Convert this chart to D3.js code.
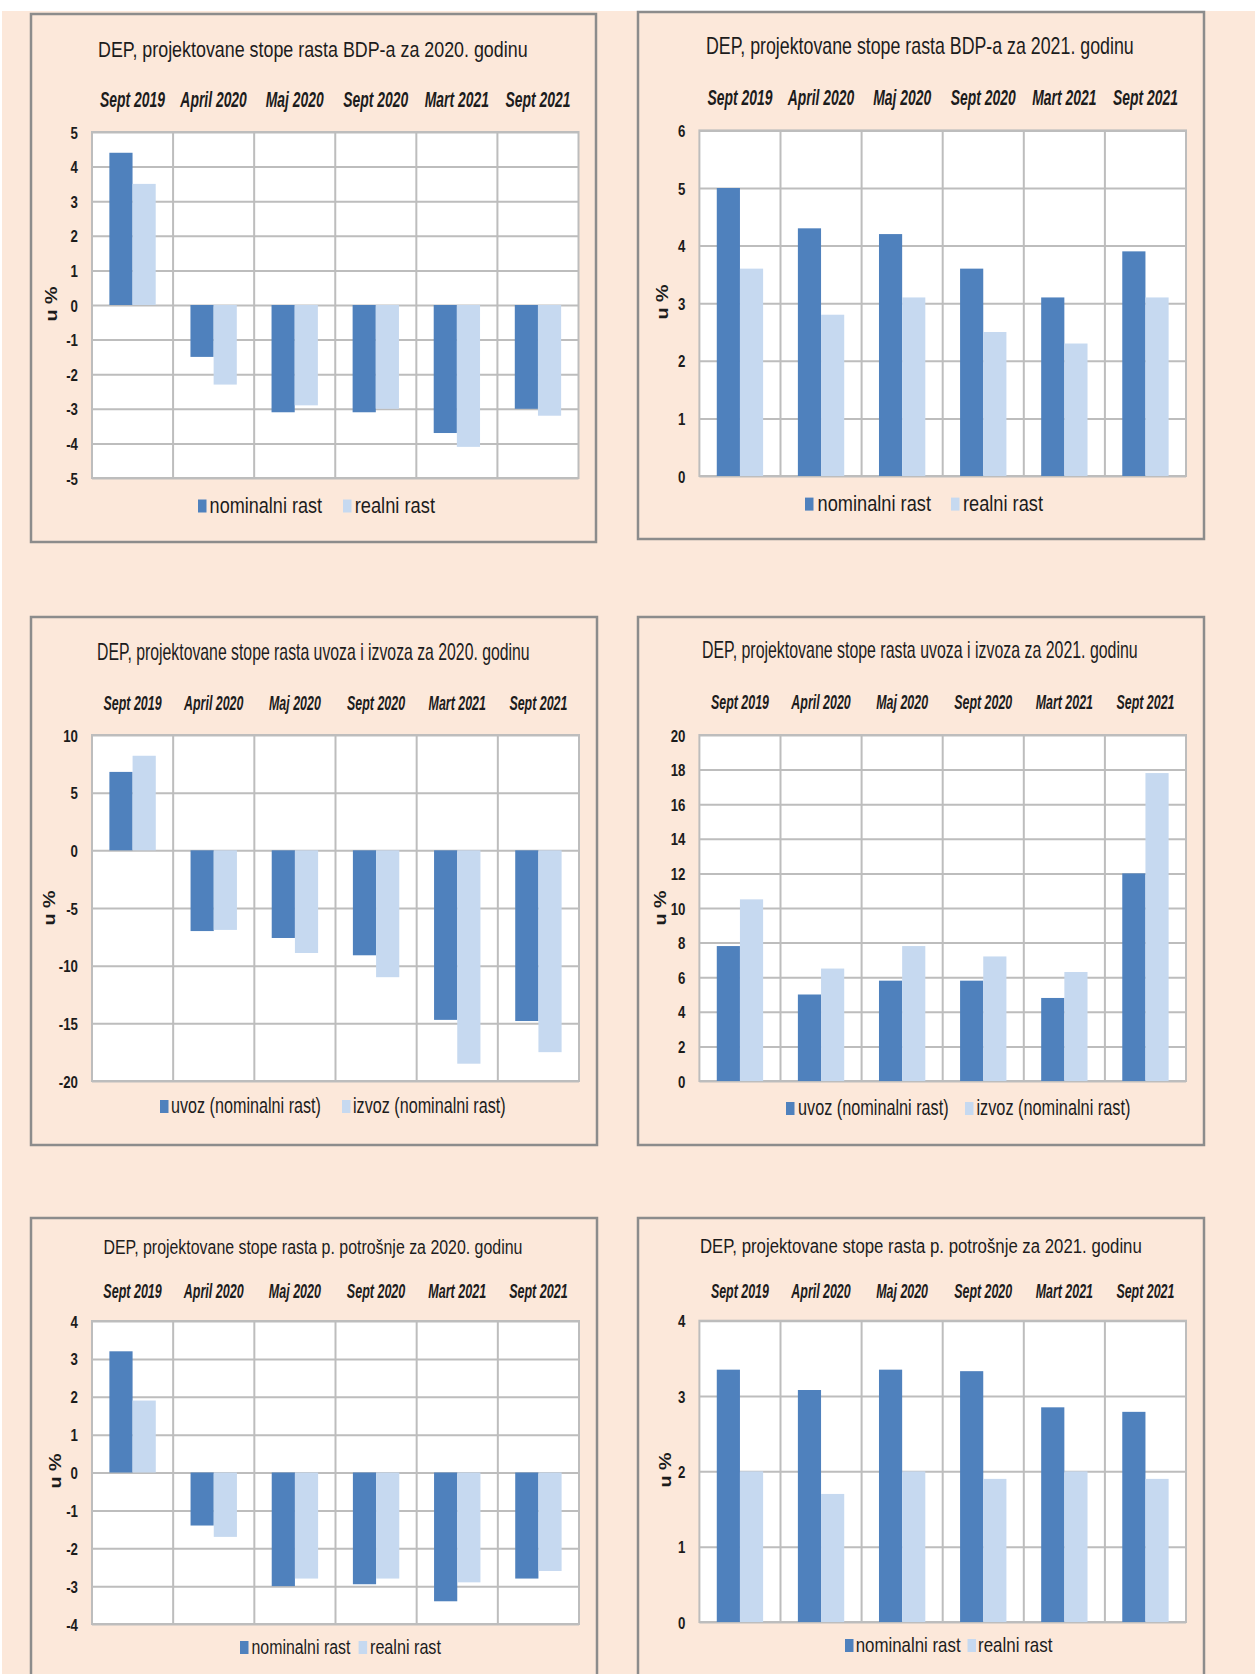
<!DOCTYPE html>
<html>
<head>
<meta charset="utf-8">
<script src="https://cdn.jsdelivr.net/npm/d3@7"></script>
<style>
  html, body { margin: 0; padding: 0; background: #ffffff; }
  svg { display: block; }
  text { font-family: "Liberation Sans", Arial, sans-serif; fill: #1c1c1c; }
</style>
</head>
<body>
<svg id="chart" width="1255" height="1674"></svg>
<script>
// Forecast vintages (columns of every panel)
const categories = ["Sept 2019", "April 2020", "Maj 2020", "Sept 2020", "Mart 2021", "Sept 2021"];

// Panel titles
const titles = [
  "DEP, projektovane stope rasta BDP-a za 2020. godinu",
  "DEP, projektovane stope rasta BDP-a za 2021. godinu",
  "DEP, projektovane stope rasta uvoza i izvoza za 2020. godinu",
  "DEP, projektovane stope rasta uvoza i izvoza za 2021. godinu",
  "DEP, projektovane stope rasta p. potrošnje za 2020. godinu",
  "DEP, projektovane stope rasta p. potrošnje za 2021. godinu"
];

// Legend labels
const growthLegend = ["nominalni rast", "realni rast"];
const tradeLegend = ["uvoz (nominalni rast)", "izvoz (nominalni rast)"];
const yAxisTitle = "u %";

// GDP growth, %
const gdp2020Nominal = [4.4, -1.5, -3.1, -3.1, -3.7, -3.0];
const gdp2020Real    = [3.5, -2.3, -2.9, -3.0, -4.1, -3.2];
const gdp2021Nominal = [5.0, 4.3, 4.2, 3.6, 3.1, 3.9];
const gdp2021Real    = [3.6, 2.8, 3.1, 2.5, 2.3, 3.1];

// Imports / exports, nominal growth, %
const imports2020 = [6.8, -7.0, -7.6, -9.1, -14.7, -14.8];
const exports2020 = [8.2, -6.9, -8.9, -11.0, -18.5, -17.5];
const imports2021 = [7.8, 5.0, 5.8, 5.8, 4.8, 12.0];
const exports2021 = [10.5, 6.5, 7.8, 7.2, 6.3, 17.8];

// Private consumption growth, %
const cons2020Nominal = [3.2, -1.4, -3.0, -2.95, -3.4, -2.8];
const cons2020Real    = [1.9, -1.7, -2.8, -2.8, -2.9, -2.6];
const cons2021Nominal = [3.35, 3.08, 3.35, 3.33, 2.85, 2.79];
const cons2021Real    = [2.0, 1.7, 2.0, 1.9, 2.0, 1.9];

// Y tick labels
const ticksGdp2020   = [-5, -4, -3, -2, -1, 0, 1, 2, 3, 4, 5];
const ticksGdp2021   = [0, 1, 2, 3, 4, 5, 6];
const ticksTrade2020 = [-20, -15, -10, -5, 0, 5, 10];
const ticksTrade2021 = [0, 2, 4, 6, 8, 10, 12, 14, 16, 18, 20];
const ticksCons2020  = [-4, -3, -2, -1, 0, 1, 2, 3, 4];
const ticksCons2021  = [0, 1, 2, 3, 4];

const COLORS = ["#4f81bd", "#c6d9f0"];
const GRID = "#bdbdbd";

// Layout of the six panels
const panels = [
  { title: titles[0], a: gdp2020Nominal, b: gdp2020Real, ticks: ticksGdp2020, legendText: growthLegend,
    box: [31, 14, 596, 542], plot: [92, 132, 578.5, 478], titleBase: 57, titleCx: 313, titleW: 430, titleSize: 23,
    catBase: 107, catSize: 22, catW: 65, yLab: [51, 304], legBase: 512.5, legSize: 22,
    leg: [[198, 209.6, 112.5], [343, 354.7, 80.3]] },
  { title: titles[1], a: gdp2021Nominal, b: gdp2021Real, ticks: ticksGdp2021, legendText: growthLegend,
    box: [638, 12, 1204, 539], plot: [699.4, 130.4, 1186, 476], titleBase: 54.3, titleCx: 920, titleW: 428, titleSize: 23,
    catBase: 105.3, catSize: 22, catW: 65, yLab: [662.5, 302], legBase: 510.6, legSize: 22,
    leg: [[805, 817.6, 113.4], [951, 963, 80]] },
  { title: titles[2], a: imports2020, b: exports2020, ticks: ticksTrade2020, legendText: tradeLegend,
    box: [31, 617, 597, 1145], plot: [92, 735, 579, 1081], titleBase: 660.3, titleCx: 313.5, titleW: 433, titleSize: 23,
    catBase: 710, catSize: 21, catW: 58, yLab: [49.5, 908], legBase: 1113, legSize: 22,
    leg: [[160, 171, 150], [342, 353, 152.6]] },
  { title: titles[3], a: imports2021, b: exports2021, ticks: ticksTrade2021, legendText: tradeLegend,
    box: [638, 617, 1204, 1145], plot: [699.4, 735, 1186, 1081], titleBase: 658.4, titleCx: 920, titleW: 436, titleSize: 23,
    catBase: 709, catSize: 21, catW: 58, yLab: [660.5, 908], legBase: 1115, legSize: 22,
    leg: [[786, 798, 150.7], [965, 976.4, 154]] },
  { title: titles[4], a: cons2020Nominal, b: cons2020Real, ticks: ticksCons2020, legendText: growthLegend,
    box: [31, 1218, 597, 1690], plot: [92, 1321, 579, 1624], titleBase: 1254.3, titleCx: 313, titleW: 419, titleSize: 21,
    catBase: 1298.3, catSize: 20, catW: 58.5, yLab: [55, 1471], legBase: 1654, legSize: 20,
    leg: [[240, 251.5, 99], [358.6, 370, 71]] },
  { title: titles[5], a: cons2021Nominal, b: cons2021Real, ticks: ticksCons2021, legendText: growthLegend,
    box: [638, 1218, 1204, 1690], plot: [699.4, 1320.7, 1186, 1622], titleBase: 1253.3, titleCx: 921, titleW: 442, titleSize: 21,
    catBase: 1298.3, catSize: 20, catW: 58, yLab: [665, 1470], legBase: 1652, legSize: 20,
    leg: [[845, 855.7, 105], [967.5, 978, 74.5]] }
];

const svg = d3.select("#chart");

// page background
svg.append("rect").attr("x", 2).attr("y", 11).attr("width", 1253).attr("height", 1663).attr("fill", "#fce8da");

function naturalWidth(str, size, weight, style) {
  const t = svg.append("text").attr("font-size", size).attr("font-weight", weight).attr("font-style", style).text(str);
  const w = t.node().getComputedTextLength();
  t.remove();
  return w;
}

// Condensed lettering: the font size is chosen so the text spans `width`,
// then the glyphs are stretched vertically back to the nominal `size`.
function fitText(g, str, x, y, width, size, opts = {}) {
  const weight = opts.weight || "normal";
  const style = opts.style || "normal";
  const natural = naturalWidth(str, size, weight, style);
  const w = width != null ? width : natural * (opts.k || 1);
  const fs = size * w / natural;
  const sy = size / fs;
  let x0 = x;
  if (opts.anchor === "middle") x0 = x - w / 2;
  else if (opts.anchor === "end") x0 = x - w;
  const t = g.append("text")
    .attr("transform", `translate(${x0},${y}) scale(1,${sy})`)
    .attr("font-size", fs)
    .attr("font-weight", weight)
    .attr("font-style", style)
    .text(str);
  if (opts.dy) t.attr("dy", opts.dy);
  return t;
}

panels.forEach(p => {
  const g = svg.append("g");
  const [bx0, by0, bx1, by1] = p.box;
  const [px0, py0, px1, py1] = p.plot;

  // panel frame
  g.append("rect")
    .attr("x", bx0).attr("y", by0).attr("width", bx1 - bx0).attr("height", by1 - by0)
    .attr("fill", "#fce8da").attr("stroke", "#8c8c8c").attr("stroke-width", 2.5);

  // title
  fitText(g, p.title, p.titleCx, p.titleBase, p.titleW, p.titleSize, { anchor: "middle" });

  // scales
  const x0 = d3.scaleBand().domain(categories).range([px0, px1]).paddingInner(0).paddingOuter(0);
  const x1 = d3.scaleBand().domain([0, 1]).range([0, x0.bandwidth()]).paddingInner(0).paddingOuter(0.75);
  const y = d3.scaleLinear().domain(d3.extent(p.ticks)).range([py1, py0]);

  // plot area
  g.append("rect").attr("x", px0).attr("y", py0).attr("width", px1 - px0).attr("height", py1 - py0)
    .attr("fill", "#ffffff");

  // horizontal gridlines + tick labels
  const tickK = 0.78, tickSize = 17;
  const yAxis = g.append("g").attr("transform", `translate(${px0},0)`)
    .call(d3.axisLeft(y).tickValues(p.ticks).tickSize(-(px1 - px0)).tickPadding(14).tickFormat(d => String(d)));
  yAxis.select(".domain").remove();
  yAxis.selectAll(".tick line").attr("stroke", GRID).attr("stroke-width", 2);
  yAxis.selectAll(".tick text").each(function () {
    const str = this.textContent;
    const nat = naturalWidth(str, tickSize, "bold", "normal");
    const w = nat * tickK;
    const fs = tickSize * tickK;
    d3.select(this)
      .attr("font-size", fs).attr("font-weight", "bold").attr("fill", "#1c1c1c")
      .attr("font-family", "Liberation Sans, Arial, sans-serif")
      .attr("text-anchor", "start")
      .attr("x", null).attr("dy", null)
      .attr("transform", `translate(${-14 - w},${tickSize * 0.36}) scale(1,${1 / tickK})`);
  });

  // vertical separators between vintages
  g.append("g").selectAll("line").data(categories.slice(1)).join("line")
    .attr("x1", d => x0(d)).attr("x2", d => x0(d))
    .attr("y1", py0).attr("y2", py1)
    .attr("stroke", GRID).attr("stroke-width", 2);

  // plot border
  g.append("rect").attr("x", px0).attr("y", py0).attr("width", px1 - px0).attr("height", py1 - py0)
    .attr("fill", "none").attr("stroke", GRID).attr("stroke-width", 2);

  // bars
  const rows = categories.map((c, i) => ({ c, v: [p.a[i], p.b[i]] }));
  const grp = g.append("g").selectAll("g").data(rows).join("g")
    .attr("transform", d => `translate(${x0(d.c)},0)`);
  grp.selectAll("rect").data(d => d.v.map((v, s) => ({ v, s }))).join("rect")
    .attr("x", d => x1(d.s))
    .attr("width", x1.bandwidth())
    .attr("y", d => y(Math.max(0, d.v)))
    .attr("height", d => Math.abs(y(d.v) - y(0)))
    .attr("fill", d => COLORS[d.s]);

  // vintage labels above the plot
  const catK = p.catW / naturalWidth(categories[0], p.catSize, "bold", "italic");
  categories.forEach(c => {
    fitText(g, c, x0(c) + x0.bandwidth() / 2, p.catBase, null, p.catSize,
      { anchor: "middle", weight: "bold", style: "italic", k: catK });
  });

  // y-axis title
  const yl = g.append("g").attr("transform", `translate(${p.yLab[0]},${p.yLab[1]}) rotate(-90)`);
  fitText(yl, yAxisTitle, 0, 5.5, 35, 16, { anchor: "middle", weight: "bold" });

  // legend
  p.leg.forEach((L, s) => {
    g.append("rect").attr("x", L[0]).attr("y", p.legBase - 13).attr("width", 8.5).attr("height", 13)
      .attr("fill", COLORS[s]);
    fitText(g, p.legendText[s], L[1], p.legBase, L[2], p.legSize, {});
  });
});
</script>
</body>
</html>
